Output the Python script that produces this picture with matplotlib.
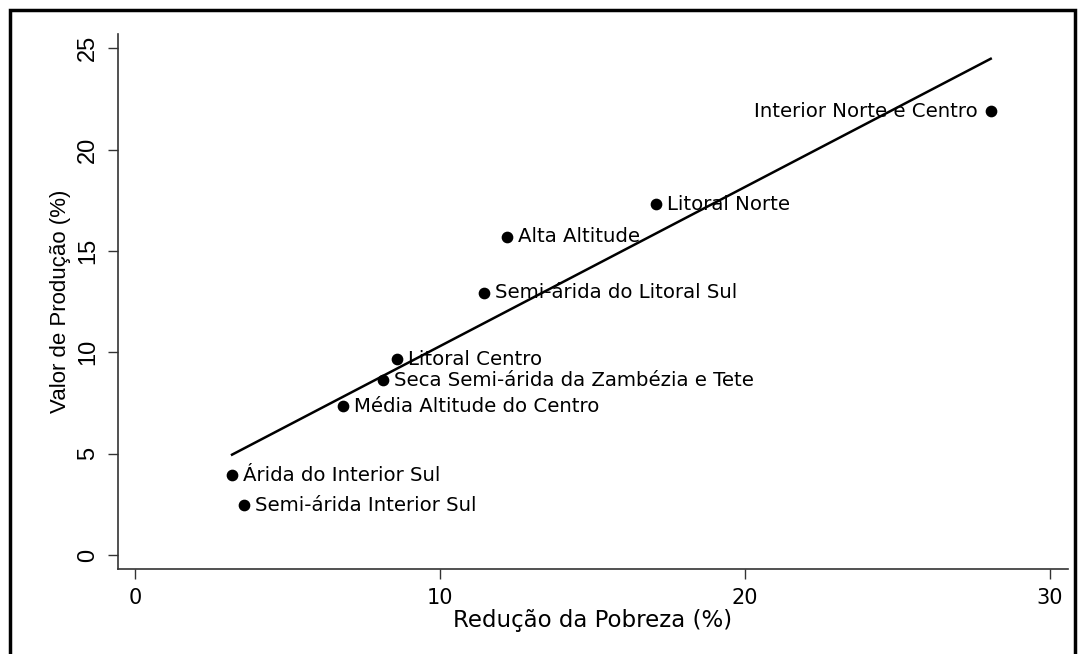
'''Scatter of production value against poverty reduction, with linear fit'''
import numpy as np
import matplotlib.pyplot as plt
from matplotlib.patches import Rectangle

regions = ['Interior Norte e Centro', 'Litoral Norte', 'Alta Altitude',
           'Semi-árida do Litoral Sul', 'Litoral Centro',
           'Seca Semi-árida da Zambézia e Tete', 'Média Altitude do Centro',
           'Árida do Interior Sul', 'Semi-árida Interior Sul']
pobreza = [28.07, 17.08, 12.2, 11.44, 8.59, 8.13, 6.82, 3.18, 3.57]
producao = [21.9, 17.3, 15.7, 12.94, 9.65, 8.61, 7.33, 3.94, 2.46]
x_ticks = [0, 10, 20, 30]
y_ticks = [0, 5, 10, 15, 20, 25]

x = np.array(pobreza)
y = np.array(producao)
slope, intercept = np.polyfit(x, y, 1)
fx = np.array([x.min(), x.max()])

fig = plt.figure(figsize=(10.83, 6.54), dpi=100)
ax = fig.add_axes([0.109, 0.130, 0.877, 0.818])

ax.plot(fx, slope * fx + intercept, color='black', linewidth=1.8, zorder=2)
ax.scatter(x, y, s=55, color='black', zorder=3)

for name, px, py in zip(regions, x, y):
    if name == 'Interior Norte e Centro':
        ax.annotate(name, (px, py), xytext=(-9, 0), textcoords='offset points',
                    ha='right', va='center', fontsize=14.2, family='DejaVu Sans')
    else:
        ax.annotate(name, (px, py), xytext=(8, 0), textcoords='offset points',
                    ha='left', va='center', fontsize=14.2, family='DejaVu Sans')

ax.set_xlim(-0.56, 30.6)
ax.set_ylim(-0.69, 25.7)
ax.set_xticks(x_ticks)
ax.set_yticks(y_ticks)
ax.tick_params(axis='both', length=7.5, width=1, color='#333333', pad=6)
for lab in ax.get_xticklabels():
    lab.set_family('DejaVu Sans')
    lab.set_fontsize(15)
for lab in ax.get_yticklabels():
    lab.set_family('Liberation Sans')
    lab.set_fontsize(17)
    lab.set_rotation(90)
    lab.set_va('center')

ax.set_xlabel('Redução da Pobreza (%)', fontsize=16.5, family='DejaVu Sans', labelpad=1)
ax.set_ylabel('Valor de Produção (%)', fontsize=16, family='Liberation Sans')
ax.yaxis.set_label_coords(-0.05, 0.5)

ax.spines[['top', 'right']].set_visible(False)
for s in ['left', 'bottom']:
    ax.spines[s].set_color('#333333')
    ax.spines[s].set_linewidth(1.2)

# outer frame
fig.patches.append(Rectangle((10 / 1083, -0.05), 1065 / 1083, 1.05 - 10 / 654,
                             transform=fig.transFigure, fill=False,
                             edgecolor='black', linewidth=2.5))

plt.savefig('out.png', dpi=100)
